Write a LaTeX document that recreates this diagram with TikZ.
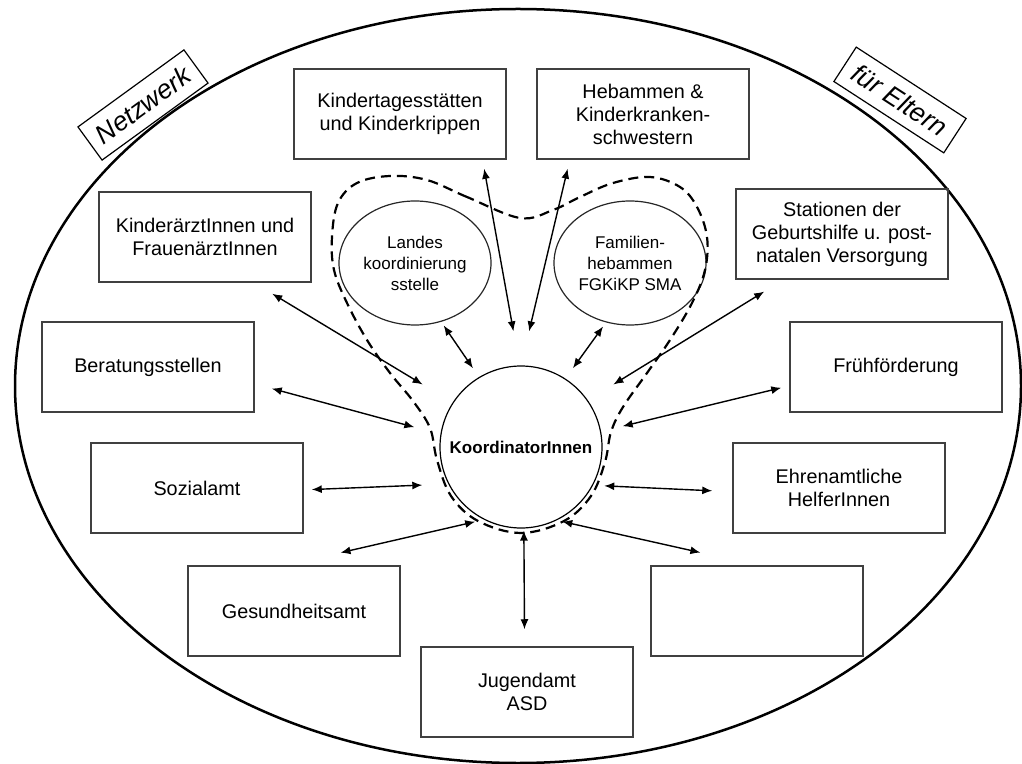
\documentclass[tikz,border=0pt]{standalone}
\usepackage{fontspec}
\setmainfont{Liberation Sans}
\usetikzlibrary{shapes.geometric,arrows.meta}

\tikzset{
  amt/.style={draw=black!75, line width=0.75pt, minimum width=106pt, minimum height=45pt,
    inner sep=0pt, align=center, font=\fontsize{9.9}{11.5}\selectfont},
  stelle/.style={ellipse, draw=black!85, line width=0.6pt, minimum width=76pt, minimum height=62pt,
    inner sep=0pt, align=center, font=\fontsize{8.5}{10.5}\selectfont},
  etikett/.style={draw, line width=0.6pt, fill=white, minimum width=65.5pt, minimum height=20.5pt,
    inner sep=0pt, font=\fontsize{13.3}{15}\selectfont\itshape},
  pfeil/.style={<->, >={Latex[length=5pt,width=4pt]}, line width=0.7pt},
}

\begin{document}
\begin{tikzpicture}[x=0.5pt, y=-0.5pt]
      \useasboundingbox (0,0) rectangle (1022,764);

      % outer ellipse
      \draw[line width=1.25pt] (518,386) ellipse [x radius=251.5pt, y radius=188.5pt];

      % boxes
      \node[amt] (kita) at (400,114) {Kindertagesstätten\\und Kinderkrippen};
      \node[amt] (heb)  at (643,114) {Hebammen \&\\Kinderkranken-\\schwestern};
      \node[amt] (arzt) at (205,237) {KinderärztInnen und\\FrauenärztInnen};
      \node[amt] (stat) at (842,234) {Stationen der\\Geburtshilfe u. post-\\natalen Versorgung};
      \node[amt] (ber)  at (148,367) {Beratungsstellen};
      \node[amt] (fruh) at (896,367) {Frühförderung};
      \node[amt] (soz)  at (197,488) {Sozialamt};
      \node[amt] (ehr)  at (839,488) {Ehrenamtliche\\HelferInnen};
      \node[amt] (ges)  at (294,611) {Gesundheitsamt};
      \node[amt] (leer) at (757,611) {};
      \node[amt] (jug)  at (527,692) {Jugendamt\\ASD};

      % centre
      \node[circle, draw, line width=0.6pt, minimum size=81pt, inner sep=0pt,
            font=\fontsize{8.5}{10}\selectfont\bfseries] (koord) at (521,447) {KoordinatorInnen};
      \node[stelle] (land) at (415,263) {Landes\\koordinierung\\sstelle};
      \node[stelle] (fam)  at (630,263) {Familien-\\hebammen\\FGKiKP SMA};

      % labels
      \node[etikett, rotate=36]  (netz)   at (143,105) {Netzwerk};
      \node[etikett, rotate=-33] (eltern) at (900,100) {für Eltern};

      % dashed loop
      \draw[line width=1.1pt, dash pattern=on 5pt off 3pt] plot[smooth cycle, tension=0.6] coordinates {
        (520,218) (467,197) (427,180) (390,176) (357,183) (338,203) (332,237) (334,270)
        (347,303) (367,340) (390,373) (413,401) (430,428) (437,460) (451,496) (478,521)
        (521,533) (564,521) (591,496) (605,462) (611,432) (623,407) (647,373) (670,340)
        (692,303) (705,270) (707,237) (697,207) (680,187) (650,177) (613,183) (580,197) (553,210)};

      % arrows
      \draw[pfeil, shorten <=4.6pt, shorten >=17.3pt] (kita.-29) -- (koord.91);
      \draw[pfeil, shorten <=4.6pt, shorten >=17.5pt] (heb.-148) -- (koord.90);
      \draw[pfeil, shorten <=2.2pt, shorten >=5.3pt] (land.-66) -- (koord.121);
      \draw[pfeil, shorten <=2.5pt, shorten >=6.4pt] (fam.-112) -- (koord.57);
      \draw[pfeil, shorten <=10.6pt, shorten >=17.5pt] (arzt.-43) -- (koord.147);
      \draw[pfeil, shorten <=8.8pt, shorten >=13.5pt] (ber.-9) -- (koord.171);
      \draw[pfeil, shorten <=11.3pt, shorten >=15pt] (stat.-142) -- (koord.35);
      \draw[pfeil, shorten <=4.1pt, shorten >=11.1pt] (fruh.-170) -- (koord.11);
      \draw[pfeil, shorten <=4pt, shorten >=13pt] (soz.-1) -- (koord.-153);
      \draw[pfeil, shorten <=10pt, shorten >=5.6pt] (ehr.-178) -- (koord.-28);
      \draw[pfeil, shorten <=28pt, shorten >=4.5pt] (ges.100) -- (koord.-117);
      \draw[pfeil, shorten <=29pt, shorten >=2.8pt] (leer.90) -- (koord.-64);
      \draw[pfeil, shorten <=8.5pt, shorten >=1pt] (jug.93) -- (koord.-88);
\end{tikzpicture}
\end{document}
